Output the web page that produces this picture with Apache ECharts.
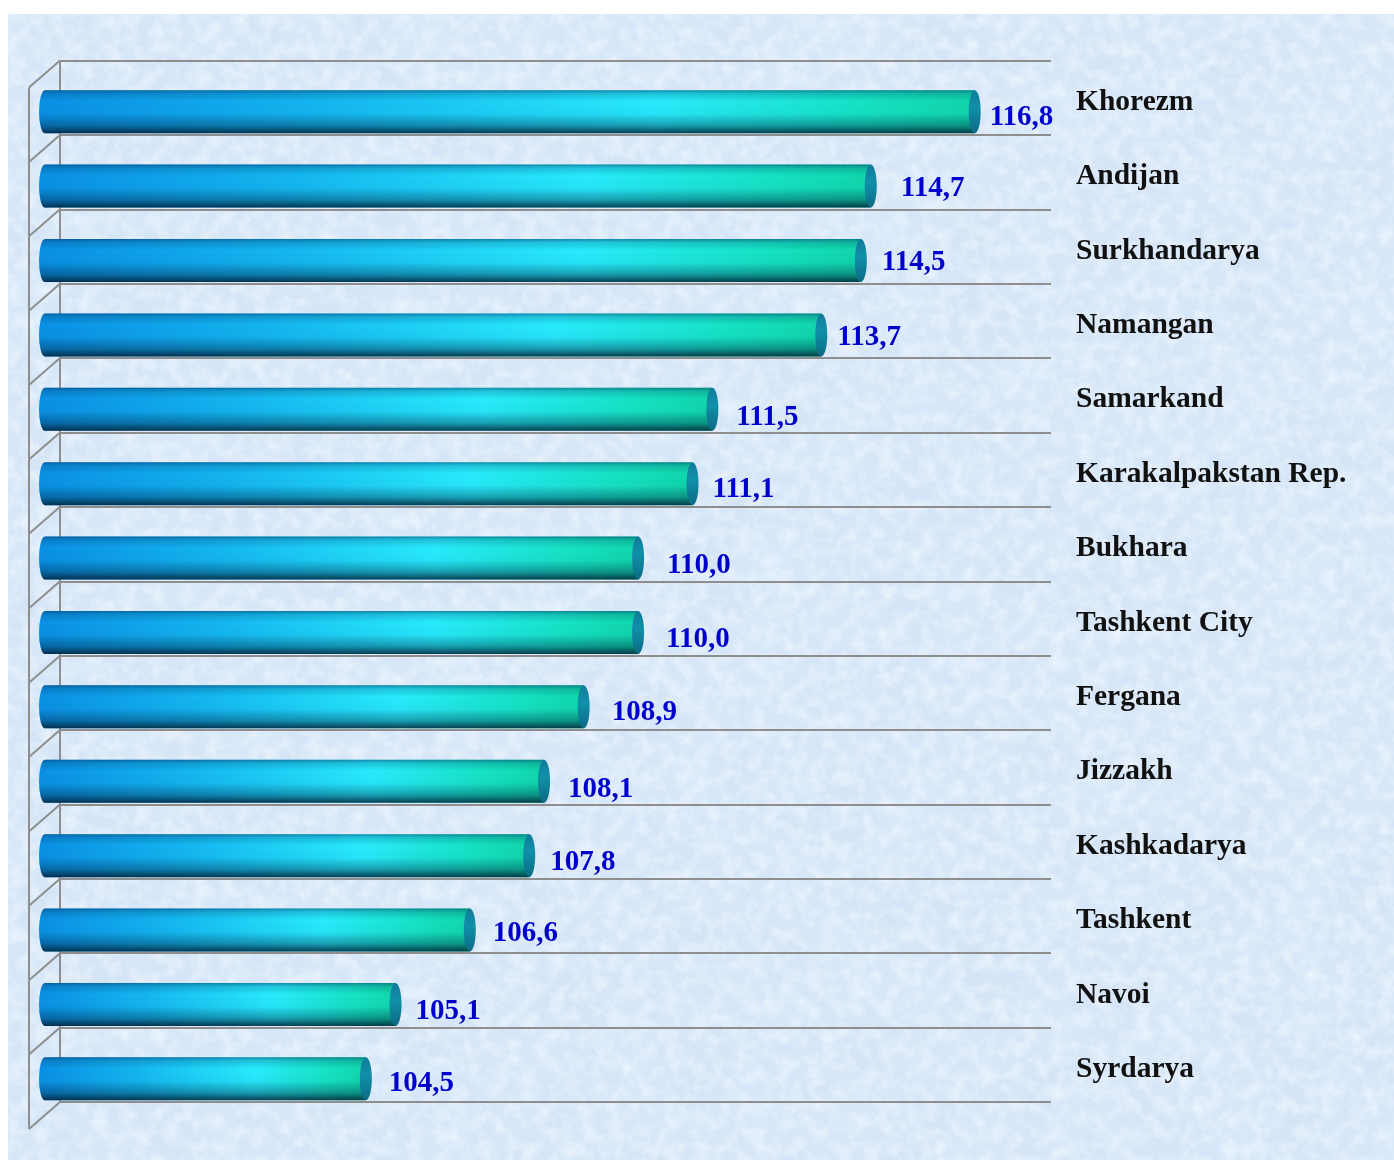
<!DOCTYPE html>
<html><head><meta charset="utf-8">
<style>
html,body{margin:0;padding:0;background:#fff;width:1394px;height:1160px;overflow:hidden}
#bg{position:absolute;left:8px;top:14px;width:1386px;height:1146px;background-color:#d5e5f7;
background-image:url("data:image/svg+xml;utf8,<svg xmlns='http://www.w3.org/2000/svg' width='1386' height='1146'><filter id='n'><feTurbulence type='fractalNoise' baseFrequency='0.07' numOctaves='4' seed='7'/><feColorMatrix values='0 0 0 0 0.94  0 0 0 0 0.97  0 0 0 0 1  1.2 0 0 0 -0.46'/></filter><filter id='m'><feTurbulence type='fractalNoise' baseFrequency='0.015' numOctaves='3' seed='21'/><feColorMatrix values='0 0 0 0 0.72  0 0 0 0 0.84  0 0 0 0 0.97  0.9 0 0 0 -0.28'/></filter><rect width='1386' height='1146' filter='url(%23m)'/><rect width='1386' height='1146' filter='url(%23n)'/></svg>")}
#chart{position:absolute;left:0;top:0;width:1394px;height:1160px}
</style></head><body>
<div id="bg"></div><div id="chart"></div>
<script src="https://cdn.jsdelivr.net/npm/echarts@6/dist/echarts.min.js"></script>
<script>
const regions = ['Khorezm','Andijan','Surkhandarya','Namangan','Samarkand','Karakalpakstan Rep.','Bukhara','Tashkent City','Fergana','Jizzakh','Kashkadarya','Tashkent','Navoi','Syrdarya'];
const values = [116.8,114.7,114.5,113.7,111.5,111.1,110.0,110.0,108.9,108.1,107.8,106.6,105.1,104.5];
// label nudges from the bar end, as placed in the reference
const labelDx = [9,24,15,10,18,14,23,22,22,18,15,17,14,17];
const labelDy = [6,2,2,3,8,6,7,7,6,8,7,3,7,5];

const FONT = '"Liberation Serif","Times New Roman",serif';
const GRID = '#8e8e8e';
const chart = echarts.init(document.getElementById('chart'), null, {renderer:'canvas'});

const axisMin = 98.2, axisMax = 118.22;
const depthX = -31, depthY = 27, barInset = 21, barH = 43, barShift = 14;
const rx = 6;

function wallItem(params, api){
  const i = params.dataIndex;
  const c = api.coord([axisMin, i]);
  const band = api.size([0,1])[1];
  const top = c[1] - band/2, x = c[0];
  const ln = (x1,y1,x2,y2)=>({type:'line',shape:{x1,y1,x2,y2},style:{stroke:GRID,lineWidth:2},silent:true});
  const kids = [
    ln(x, top, x+depthX, top+depthY),
    ln(x+depthX, top+depthY, x+depthX, top+depthY+band),
    ln(x, top, x, top+band)
  ];
  if (i === values.length-1) kids.push(ln(x, top+band, x+depthX, top+band+depthY));
  return {type:'group',children:kids};
}

function barItem(params, api){
  const i = params.dataIndex;
  const end = api.coord([api.value(0), i]);
  const base = api.coord([axisMin, i]);
  const x0 = base[0]-barInset, xe = end[0];
  const cy = end[1]+barShift, y0 = cy-barH/2, y1 = cy+barH/2, ry = barH/2;
  const d = `M${x0+rx} ${y0}L${xe-rx} ${y0}L${xe-rx} ${y1}L${x0+rx} ${y1}A${rx} ${ry} 0 0 1 ${x0+rx} ${y0}Z`;
  const sh = {pathData:d,x:x0,y:y0,width:xe-rx-x0,height:barH,layout:'cover'};
  const horiz = new echarts.graphic.LinearGradient(0,0,1,0,[
    {offset:0,color:'#0a90e4'},{offset:.3,color:'#14b6f0'},{offset:.66,color:'#28eafc'},{offset:.88,color:'#16e2c4'},{offset:1,color:'#10d6aa'}]);
  const vert = new echarts.graphic.LinearGradient(0,0,0,1,[
    {offset:0,color:'rgba(0,45,90,.5)'},{offset:.08,color:'rgba(0,45,90,.2)'},{offset:.26,color:'rgba(0,30,60,0)'},{offset:.55,color:'rgba(0,30,60,.03)'},{offset:.82,color:'rgba(0,35,60,.38)'},{offset:1,color:'rgba(0,25,45,.82)'}]);
  const cap = new echarts.graphic.LinearGradient(0,0,0,1,[
    {offset:0,color:'#0f7a9a'},{offset:.4,color:'#1190aa'},{offset:1,color:'#0b6a84'}]);
  return {type:'group',children:[
    {type:'path',shape:sh,style:{fill:horiz}},
    {type:'path',shape:sh,style:{fill:vert}},
    {type:'ellipse',shape:{cx:xe-rx,cy:cy,rx:rx,ry:ry},style:{fill:cap}},
    {type:'text',x:xe+labelDx[i],y:cy+labelDy[i],style:{
      text:api.value(0).toFixed(1).replace('.',','),
      fill:'#0000cc',font:'bold 29px '+FONT,align:'left',verticalAlign:'middle'}}
  ]};
}

chart.setOption({
  animation:false,
  backgroundColor:'transparent',
  grid:{left:60,right:343,top:60.5,height:1041.5,containLabel:false},
  xAxis:{type:'value',min:axisMin,max:axisMax,show:false,splitLine:{show:false}},
  yAxis:{type:'category',data:regions,inverse:true,position:'right',
    axisLine:{show:false},axisTick:{show:false},
    axisLabel:{margin:25,interval:0,align:'left',formatter:'{a|{value}}',
      rich:{a:{color:'#111',fontFamily:FONT,fontWeight:'bold',fontSize:29.5,padding:[9,0,0,0]}}},
    splitLine:{show:true,interval:0,lineStyle:{color:GRID,width:2}}},
  series:[
    {type:'custom',name:'wall',coordinateSystem:'cartesian2d',clip:false,z:1,silent:true,
      encode:{x:0,y:1},data:values.map((v,i)=>[v,i]),renderItem:wallItem},
    {type:'custom',name:'Index',coordinateSystem:'cartesian2d',clip:false,z:3,silent:true,
      encode:{x:0,y:1},data:values.map((v,i)=>[v,i]),renderItem:barItem}
  ]
});
</script>
</body></html>
